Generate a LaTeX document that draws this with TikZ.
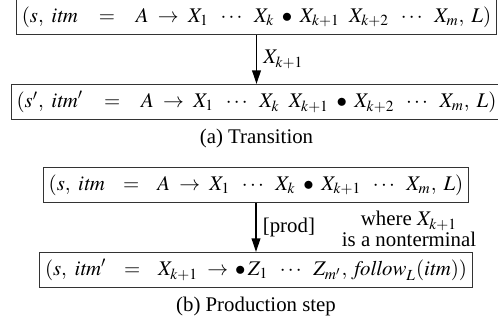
\documentclass[tikz,border=0pt]{standalone}
\usepackage{mathptmx}
\usepackage[no-math]{fontspec}
\setmainfont{Liberation Serif}
\usepackage{tikz}
\usetikzlibrary{arrows.meta,positioning}

\newcommand{\eqsp}[1][7.8pt]{\hspace{#1}=\hspace{#1}}

\begin{document}
\begin{tikzpicture}[
    x=0.48pt, y=0.48pt,
    node distance=23.5pt,
    item/.style={draw=black!80, line width=0.6pt, inner xsep=2.5pt, minimum height=16.6pt, font=\normalsize},
    subcap/.style={font=\normalsize, inner sep=1pt},
    note/.style={font=\normalsize, align=center, inner sep=1pt},
    arr/.style={-{Triangle[length=6.5pt, width=4.2pt]}, line width=0.6pt}
  ]
    \useasboundingbox (0,0) rectangle (498,-323);
    % (a) transition
    \node[item] (src) at (256.5,-17) {$(s,\ \mathit{itm}\eqsp A\;\to\;X_1\;\;\cdots\;\;X_k\;\bullet\;X_{k+1}\;\;X_{k+2}\;\;\cdots\;\;X_m,\;L)$};
    \node[item, below=of src] (dst) {$(s',\ \mathit{itm}'\eqsp A\;\to\;X_1\;\;\cdots\;\;X_k\;\;X_{k+1}\;\bullet\;X_{k+2}\;\;\cdots\;\;X_m,\;L)$};
    \node[subcap, below=3pt of dst] (capa) {(a) Transition};
    \draw[arr] (src) -- node[right, inner sep=3pt] {$X_{k+1}$} (dst);
    % (b) production step
    \node[item] (prod) at (256,-185) {$(s,\ \mathit{itm}\eqsp[6.5pt] A\;\to\;X_1\;\;\cdots\;\;X_k\;\bullet\;X_{k+1}\;\;\cdots\;\;X_m,\;L)$};
    \node[item, below=of prod] (start) {$(s,\ \mathit{itm}'\eqsp[6.3pt] X_{k+1}\;\to\,\bullet\,Z_1\;\;\cdots\;\;Z_{m'},\;\mathit{follow}_L(\mathit{itm}))$};
    \node[subcap, below=3pt of start] (capb) {(b) Production step};
    \draw[arr] (prod) -- node[right, inner sep=3pt] {[prod]} (start);
    \node[note] (cond) at (409,-229) {where $X_{k+1}$\\[-2pt]is a nonterminal};
  \end{tikzpicture}
\end{document}
